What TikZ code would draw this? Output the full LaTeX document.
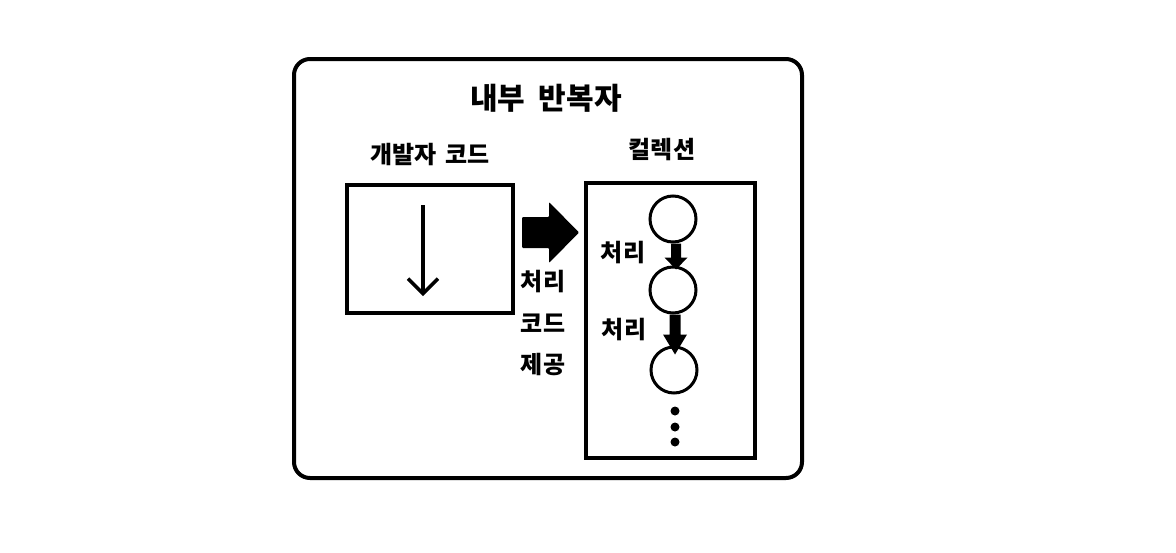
\documentclass[tikz,border=0pt]{standalone}
\usepackage{fontspec}
\setmainfont{Noto Sans CJK KR}
\usetikzlibrary{arrows.meta}
\begin{document}
\begin{tikzpicture}[x=1pt,y=-1pt,
  lbl/.style={font=\bfseries\fontsize{24}{28}\selectfont, inner sep=0pt},
  ttl/.style={font=\bfseries\fontsize{30}{34}\selectfont, inner sep=0pt},
  boxline/.style={draw=black, line width=4pt},
  ring/.style={circle, draw=black, line width=3pt, minimum size=46pt, inner sep=0pt},
  dot/.style={circle, fill=black, minimum size=9pt, inner sep=0pt}]
\useasboundingbox (0,0) rectangle (1176,552);
% outer frame
\draw[boxline, rounded corners=16pt] (294,59) rectangle (802,478);
\node[ttl] (title) at (546,98) {내부\hspace{0.45em}반복자};
% developer code
\node[lbl] (devlbl) at (430,155) {개발자\hspace{0.35em}코드};
\node[boxline, minimum width=166pt, minimum height=128pt, inner sep=0pt] (lb) at (430,249) {};
\coordinate (da) at (423,205);
\coordinate (db) at (423,296);
\draw[line width=3.5pt, -{Straight Barb[length=15pt,width=30pt,line width=3.5pt]}] (da) -- (db);
% big arrow
\coordinate (ba) at (522,232.5);
\fill[shift={(ba)}, rounded corners=1pt] (0,-15.5) -- (27,-15.5) -- (27,-30.5) -- (57,0) -- (27,30.5) -- (27,15.5) -- (0,15.5) -- cycle;
\node[lbl] (p1) at (543,282) {처리};
\node[lbl] (p2) at (543,323) {코드};
\node[lbl] (p3) at (543,365) {제공};
% collection
\node[lbl] (collbl) at (662,150) {컬렉션};
\node[boxline, minimum width=169pt, minimum height=275pt, inner sep=0pt] (rb) at (670.5,320.5) {};
\node[ring] (c1) at (673,219) {};
\node[ring] (c2) at (673,290) {};
\node[ring] (c3) at (674,370) {};
% fat arrows between circles
\fill[shift={([xshift=3pt]c1.south)}] (-5,0) -- (5,0) -- (5,14) -- (11.5,14) -- (0,26) -- (-11.5,14) -- (-5,14) -- cycle;
\fill[shift={([xshift=2pt]c2.south)}] (-5.5,0) -- (5.5,0) -- (5.5,20) -- (12,20) -- (0,40) -- (-12,20) -- (-5.5,20) -- cycle;
\node[lbl] (q1) at (623,253) {처리};
\node[lbl] (q2) at (624,330) {처리};
\node[dot] (d1) at (675,411) {};
\node[dot] (d2) at (675,427) {};
\node[dot] (d3) at (675,442) {};
\end{tikzpicture}
\end{document}
